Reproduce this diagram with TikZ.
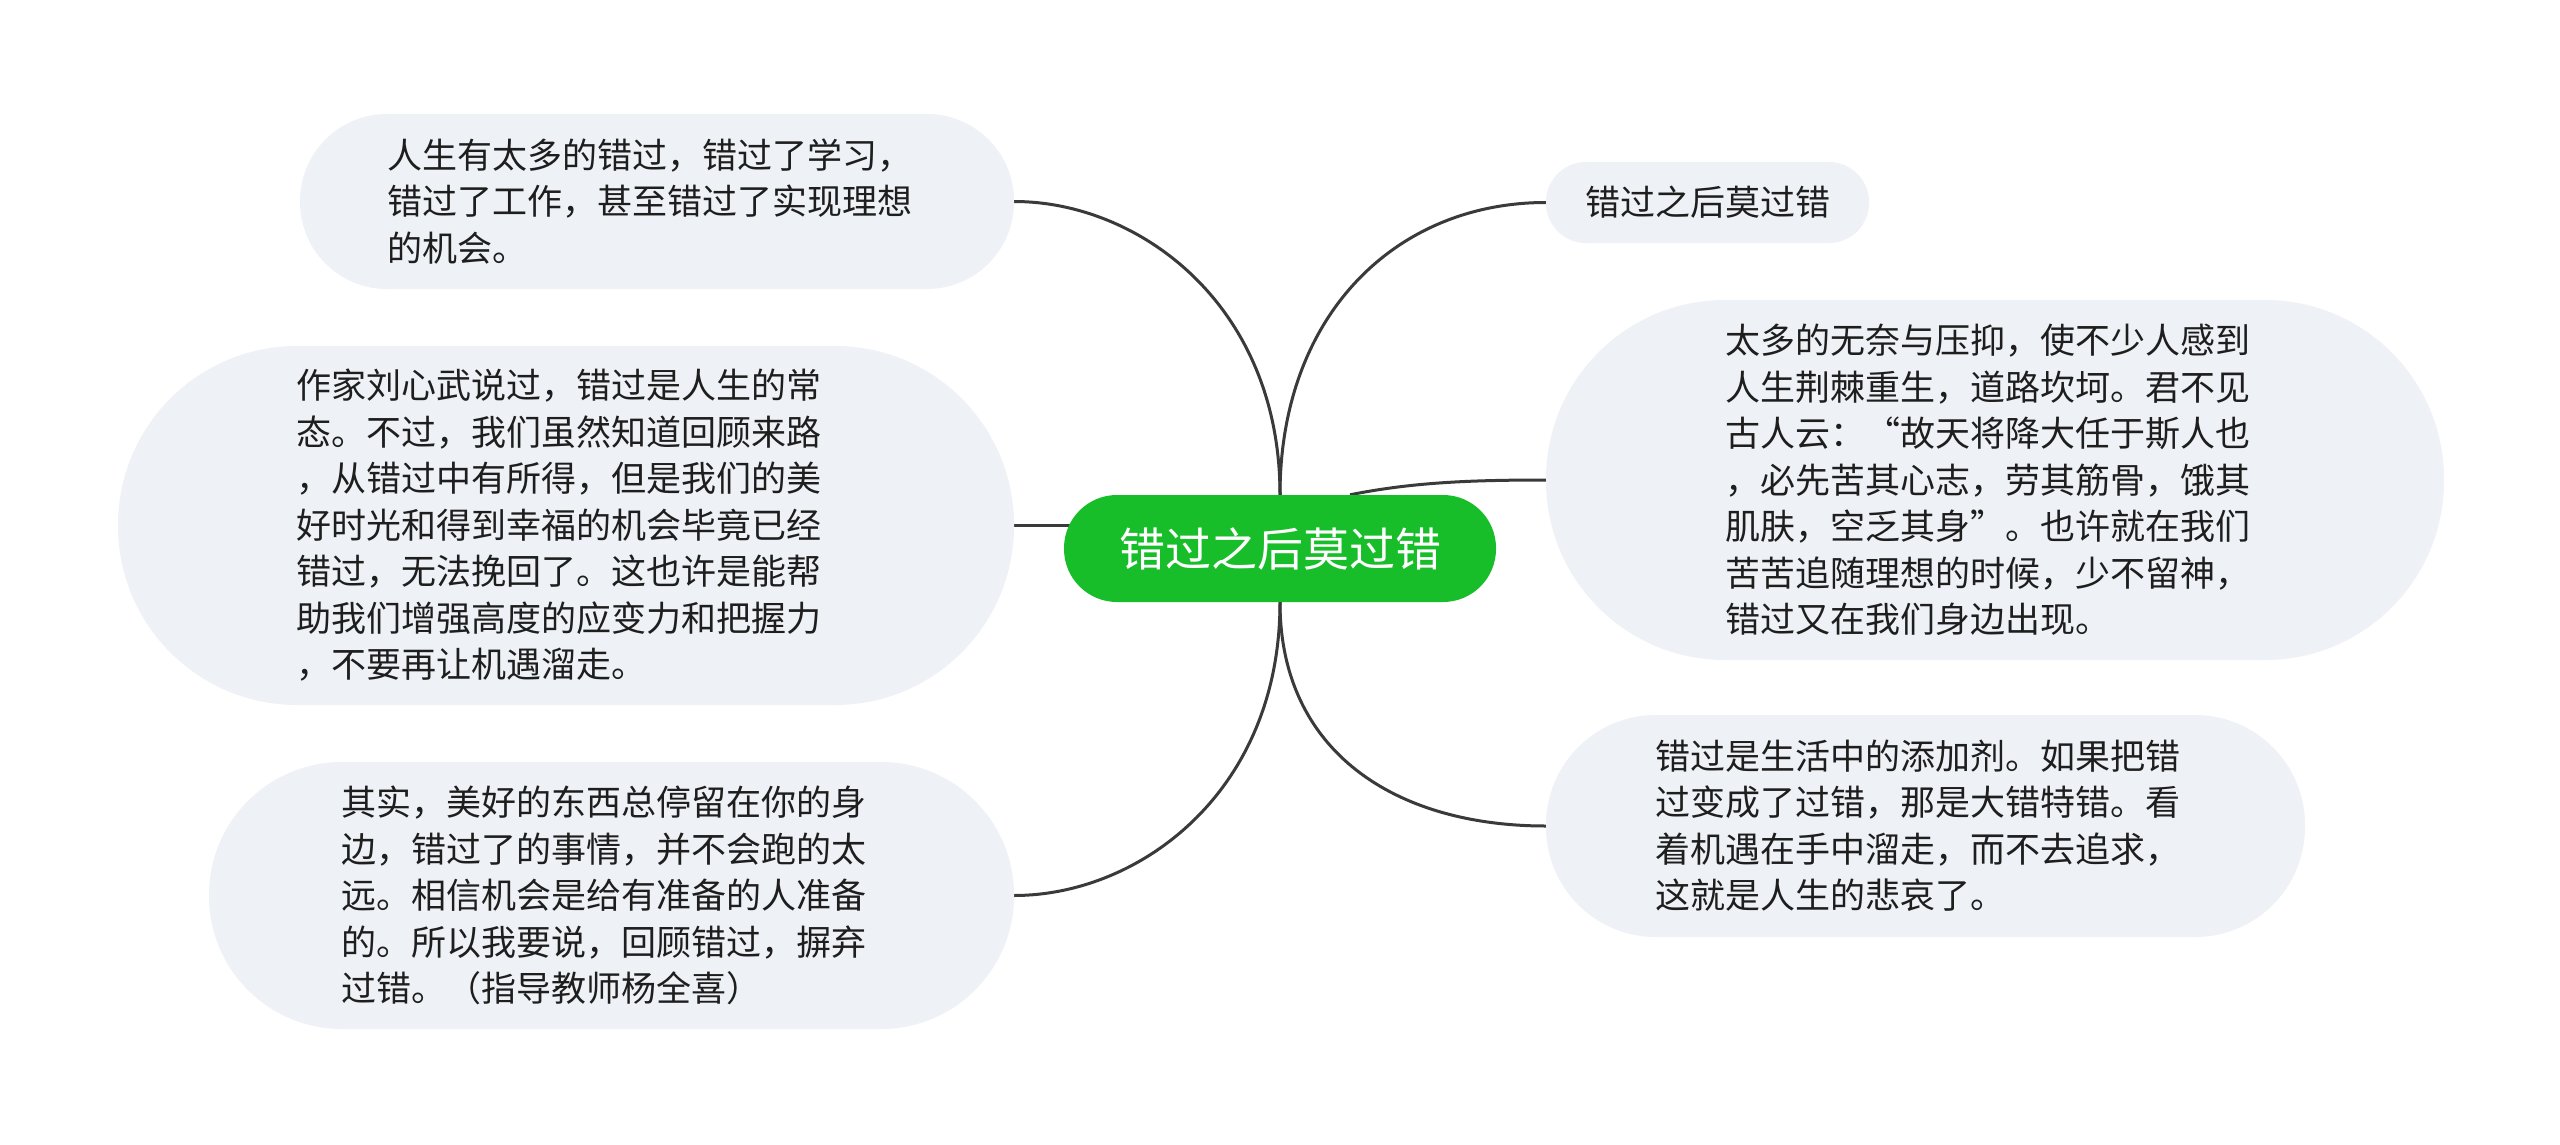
\documentclass[tikz,border=0pt]{standalone}
\usepackage{fontspec}
\newfontfamily\cjk{Noto Sans CJK SC}
\usetikzlibrary{backgrounds}
\definecolor{leafbg}{RGB}{238,241,245}
\definecolor{rootgreen}{RGB}{24,190,42}
\definecolor{linegray}{RGB}{58,58,58}
\definecolor{txt}{RGB}{30,30,30}
\tikzset{
  leafbox/.style={fill=leafbg, draw=none, inner sep=0pt, text=txt,
    font=\cjk\fontsize{35}{46.5}\selectfont},
  longleaf/.style={leafbox, text width=540pt, align=left},
  rootnode/.style={fill=rootgreen, draw=none, inner sep=0pt, text=white,
    minimum width=432pt, minimum height=107pt, rounded corners=53pt,
    font=\cjk\fontsize{46}{50}\selectfont},
  conn/.style={draw=linegray, line width=3pt}
}
\begin{document}
\begin{tikzpicture}[x=1pt,y=-1pt]
\useasboundingbox (0,0) rectangle (2560,1145);

\node[rootnode] (root) at (1280,548.5) {错过之后莫过错};

\node[longleaf, minimum width=714pt, minimum height=175pt, rounded corners=87pt] (n1) at (657,201.5)
 {人生有太多的错过，错过了学习，\\错过了工作，甚至错过了实现理想\\的机会。};

\node[longleaf, minimum width=896pt, minimum height=359pt, rounded corners=179pt] (n2) at (566,525.5)
 {作家刘心武说过，错过是人生的常\\态。不过，我们虽然知道回顾来路\\，从错过中有所得，但是我们的美\\好时光和得到幸福的机会毕竟已经\\错过，无法挽回了。这也许是能帮\\助我们增强高度的应变力和把握力\\，不要再让机遇溜走。};

\node[longleaf, minimum width=805pt, minimum height=267pt, rounded corners=133pt] (n3) at (611.5,895.5)
 {其实，美好的东西总停留在你的身\\边，错过了的事情，并不会跑的太\\远。相信机会是给有准备的人准备\\的。所以我要说，回顾错过，摒弃\\过错。（指导教师杨全喜）};

\node[leafbox, minimum width=323pt, minimum height=81pt, rounded corners=40pt] (r1) at (1707.5,202.5)
 {错过之后莫过错};

\node[longleaf, minimum width=898pt, minimum height=360pt, rounded corners=179pt] (r2) at (1995,480)
 {太多的无奈与压抑，使不少人感到\\人生荆棘重生，道路坎坷。君不见\\古人云：“故天将降大任于斯人也\\，必先苦其心志，劳其筋骨，饿其\\肌肤，空乏其身”。也许就在我们\\苦苦追随理想的时候，少不留神，\\错过又在我们身边出现。};

\node[longleaf, minimum width=759pt, minimum height=222pt, rounded corners=110pt] (r3) at (1925.5,826)
 {错过是生活中的添加剂。如果把错\\过变成了过错，那是大错特错。看\\着机遇在手中溜走，而不去追求，\\这就是人生的悲哀了。};

\begin{pgfonlayer}{background}
\fill[white] (0,0) rectangle (2560,1145);
\draw[conn] (root.north) .. controls +(0,-190) and +(125,0) .. (n1.east);
\draw[conn] (root.north) .. controls +(0,-180) and +(-150,0) .. (r1.west);
\draw[conn] (root.south) .. controls +(0,190) and +(125,0) .. (n3.east);
\draw[conn] (root.south) .. controls +(0,150) and +(-150,0) .. (r3.west);
\draw[conn] (n2.east) -- (n2.east -| root.center);
\draw[conn] ([xshift=70pt]root.north) .. controls +(60,-12) and +(-80,0) .. (r2.west);
\end{pgfonlayer}
\end{tikzpicture}
\end{document}
